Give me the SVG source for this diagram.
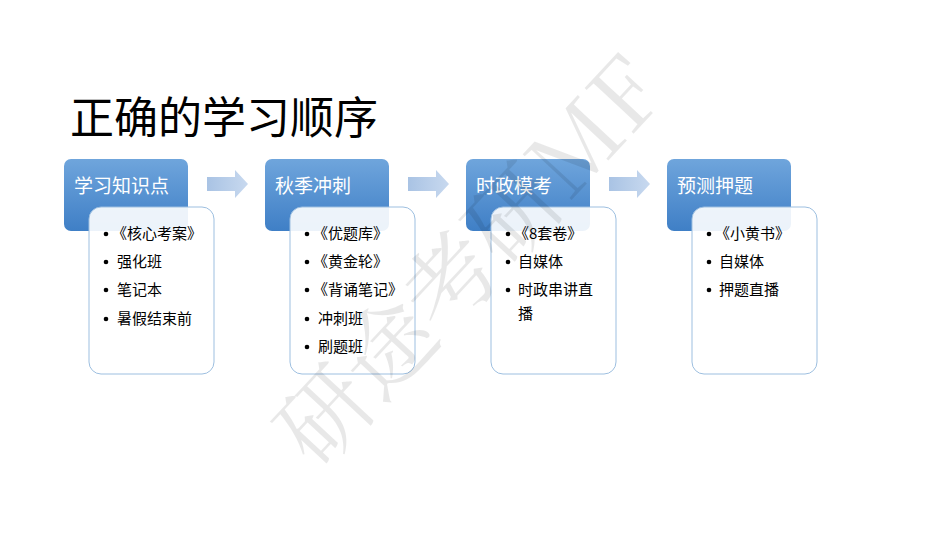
<svg xmlns="http://www.w3.org/2000/svg" width="950" height="535" viewBox="0 0 950 535">
<style>
.h{font-family:"Noto Sans CJK SC","Liberation Sans",sans-serif;font-size:19px;fill:#fff}
.t{font-family:"Noto Sans CJK SC","Liberation Sans",sans-serif;font-size:15px;fill:#000}
.hb{fill:url(#g);}
.wb{fill:#fff;fill-opacity:0.9;stroke:#9dbfe0;stroke-width:1}
</style>
<defs>
<linearGradient id="g" x1="0" y1="0" x2="0" y2="1"><stop offset="0" stop-color="#6fa5dc"/><stop offset="1" stop-color="#3f7fc6"/></linearGradient>
<linearGradient id="ga" x1="0" y1="0" x2="1" y2="0"><stop offset="0" stop-color="#a9c3e4"/><stop offset="1" stop-color="#c8d9ef"/></linearGradient>
<path id="arr" d="M0 7H28V0L41 14L28 28V21H0Z" fill="url(#ga)"/>
<circle id="b" r="2.3" fill="#000"/>
</defs>
<rect width="950" height="535" fill="#fff"/>
<text x="70" y="134" font-family="Noto Sans CJK SC,Liberation Sans,sans-serif" font-size="44" fill="#000">正确的学习顺序</text>
<g id="connectors">
<use href="#arr" x="207" y="170"/><use href="#arr" x="408" y="170"/><use href="#arr" x="609" y="170"/>
</g>
<g id="n1"><rect class="hb" x="64" y="159" width="124" height="72" rx="7"/><text class="h" x="74" y="193">学习知识点</text>
<rect class="wb" x="89" y="207" width="125" height="167" rx="12"/>
<use href="#b" x="106" y="234"/><use href="#b" x="106" y="262"/><use href="#b" x="106" y="290"/><use href="#b" x="106" y="319"/>
<g class="t"><text x="112" y="239">《核心考案》</text><text x="117" y="267">强化班</text><text x="117" y="295">笔记本</text><text x="117" y="324">暑假结束前</text></g></g>
<g id="n2"><rect class="hb" x="265" y="159" width="124" height="72" rx="7"/><text class="h" x="275" y="193">秋季冲刺</text>
<rect class="wb" x="290" y="207" width="125" height="167" rx="12"/>
<use href="#b" x="307" y="234"/><use href="#b" x="307" y="262"/><use href="#b" x="307" y="290"/><use href="#b" x="307" y="319"/><use href="#b" x="307" y="347"/>
<g class="t"><text x="313" y="239">《优题库》</text><text x="313" y="267">《黄金轮》</text><text x="313" y="295">《背诵笔记》</text><text x="318" y="324">冲刺班</text><text x="318" y="352">刷题班</text></g></g>
<g id="n3"><rect class="hb" x="466" y="159" width="124" height="72" rx="7"/><text class="h" x="476" y="193">时政模考</text>
<rect class="wb" x="491" y="207" width="125" height="167" rx="12"/>
<use href="#b" x="508" y="234"/><use href="#b" x="508" y="262"/><use href="#b" x="508" y="290"/>
<g class="t"><text x="514" y="239">《8套卷》</text><text x="518" y="267">自媒体</text><text x="518" y="295">时政串讲直</text><text x="518" y="319">播</text></g></g>
<g id="n4"><rect class="hb" x="667" y="159" width="124" height="72" rx="7"/><text class="h" x="677" y="193">预测押题</text>
<rect class="wb" x="692" y="207" width="125" height="167" rx="12"/>
<use href="#b" x="709" y="234"/><use href="#b" x="709" y="262"/><use href="#b" x="709" y="290"/>
<g class="t"><text x="715" y="239">《小黄书》</text><text x="719" y="267">自媒体</text><text x="719" y="295">押题直播</text></g></g>
<text x="0" y="0" transform="translate(318,472) rotate(-47)" font-family="Noto Serif CJK SC,Noto Sans CJK SC,serif" font-size="92" fill="#000" fill-opacity="0.09">研途考研MF</text>
</svg>
